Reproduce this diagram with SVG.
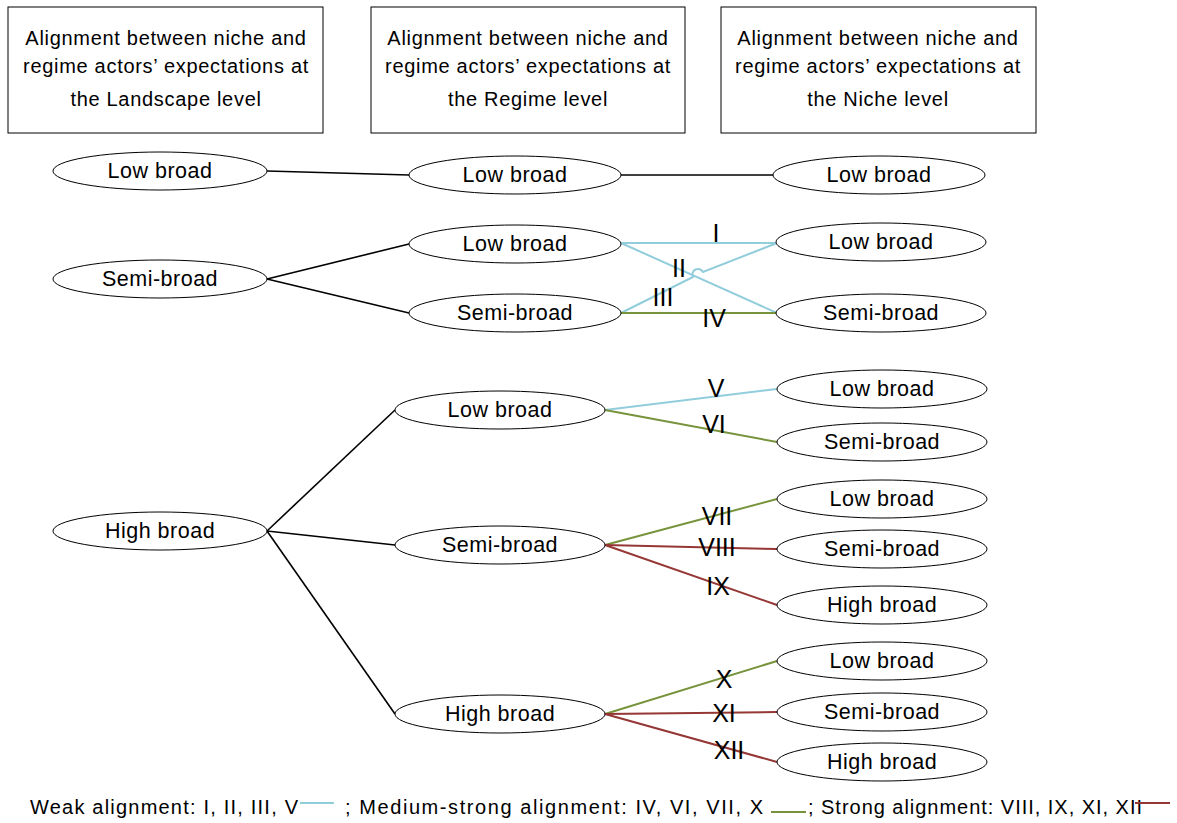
<svg xmlns="http://www.w3.org/2000/svg" width="1177" height="823" viewBox="0 0 1177 823">
<style>
text{font-family:"Liberation Sans",Arial,sans-serif;fill:#000}
.hdr{font-size:20px;letter-spacing:0.7px;text-anchor:middle}
.nt{font-size:21.5px;letter-spacing:0.5px;text-anchor:middle;dominant-baseline:central}
.lb{font-size:25px;text-anchor:middle;dominant-baseline:central}
.lg{font-size:20px}
rect{fill:#fff;stroke:#000;stroke-width:1}
ellipse{fill:#fff;stroke:#000;stroke-width:1}
.k{stroke:#000;stroke-width:1.6;fill:none}
.b{stroke:#92CDDC;stroke-width:2;fill:none}
.g{stroke:#77933C;stroke-width:2;fill:none}
.r{stroke:#953735;stroke-width:2;fill:none}
</style>
<rect x="0" y="0" width="1177" height="823" style="stroke:none;fill:#fff"/>
<g id="header-landscape"><rect x="8" y="7" width="315" height="126"/><text class="hdr" x="166" y="45">Alignment between niche and</text><text class="hdr" x="166" y="73">regime actors’ expectations at</text><text class="hdr" x="166" y="106">the Landscape level</text></g>
<g id="header-regime"><rect x="371" y="7" width="314" height="126"/><text class="hdr" x="528" y="45">Alignment between niche and</text><text class="hdr" x="528" y="73">regime actors’ expectations at</text><text class="hdr" x="528" y="106">the Regime level</text></g>
<g id="header-niche"><rect x="721" y="7" width="315" height="126"/><text class="hdr" x="878" y="45">Alignment between niche and</text><text class="hdr" x="878" y="73">regime actors’ expectations at</text><text class="hdr" x="878" y="106">the Niche level</text></g>
<g id="connectors">
<path class="k" d="M267,171 L409,175"/>
<path class="k" d="M621,175 L773,175"/>
<path class="k" d="M267,279 L409,244"/>
<path class="k" d="M267,279 L409,313"/>
<path class="b" d="M621,243 L777,243"/>
<path class="b" d="M621,243 L777,313"/>
<path class="b" d="M621,313 L693,277 A5,5 0 0 1 703,272 L777,243"/>
<path class="g" d="M621,313 L777,313"/>
<path class="k" d="M267,531 L395,410"/>
<path class="k" d="M267,531 L395,545"/>
<path class="k" d="M267,531 L395,714"/>
<path class="b" d="M605,410 L777,389"/>
<path class="g" d="M605,410 L777,442"/>
<path class="g" d="M605,545 L777,499"/>
<path class="r" d="M605,545 L777,549"/>
<path class="r" d="M605,545 L777,605"/>
<path class="g" d="M605,714 L777,661"/>
<path class="r" d="M605,714 L777,712"/>
<path class="r" d="M605,714 L777,762"/>
</g>
<g id="edge-labels">
<text class="lb" x="716" y="233">I</text>
<text class="lb" x="679" y="268">II</text>
<text class="lb" x="663" y="297">III</text>
<text class="lb" x="714" y="318">IV</text>
<text class="lb" x="716" y="388">V</text>
<text class="lb" x="714" y="424">VI</text>
<text class="lb" x="717" y="516">VII</text>
<text class="lb" x="717" y="547">VIII</text>
<text class="lb" x="718" y="586">IX</text>
<text class="lb" x="724" y="679">X</text>
<text class="lb" x="724" y="713">XI</text>
<text class="lb" x="729" y="750">XII</text>
</g>
<g id="l1-low"><ellipse cx="160" cy="171" rx="107" ry="19"/><text class="nt" x="160" y="171">Low broad</text></g>
<g id="r1-low"><ellipse cx="515" cy="175" rx="106" ry="19"/><text class="nt" x="515" y="175">Low broad</text></g>
<g id="n1-low"><ellipse cx="879" cy="175" rx="106" ry="19"/><text class="nt" x="879" y="175">Low broad</text></g>
<g id="l2-semi"><ellipse cx="160" cy="279" rx="107" ry="19"/><text class="nt" x="160" y="279">Semi-broad</text></g>
<g id="r2-low"><ellipse cx="515" cy="244" rx="106" ry="19"/><text class="nt" x="515" y="244">Low broad</text></g>
<g id="r2-semi"><ellipse cx="515" cy="313" rx="106" ry="19"/><text class="nt" x="515" y="313">Semi-broad</text></g>
<g id="n2-low"><ellipse cx="881" cy="242" rx="105" ry="19"/><text class="nt" x="881" y="242">Low broad</text></g>
<g id="n2-semi"><ellipse cx="881" cy="313" rx="105" ry="19"/><text class="nt" x="881" y="313">Semi-broad</text></g>
<g id="l3-high"><ellipse cx="160" cy="531" rx="107" ry="19"/><text class="nt" x="160" y="531">High broad</text></g>
<g id="r3-low"><ellipse cx="500" cy="410" rx="105" ry="19"/><text class="nt" x="500" y="410">Low broad</text></g>
<g id="r3-semi"><ellipse cx="500" cy="545" rx="105" ry="19"/><text class="nt" x="500" y="545">Semi-broad</text></g>
<g id="r3-high"><ellipse cx="500" cy="714" rx="105" ry="19"/><text class="nt" x="500" y="714">High broad</text></g>
<g id="n3-low-a"><ellipse cx="882" cy="389" rx="105" ry="19"/><text class="nt" x="882" y="389">Low broad</text></g>
<g id="n3-semi-a"><ellipse cx="882" cy="442" rx="105" ry="19"/><text class="nt" x="882" y="442">Semi-broad</text></g>
<g id="n3-low-b"><ellipse cx="882" cy="499" rx="105" ry="19"/><text class="nt" x="882" y="499">Low broad</text></g>
<g id="n3-semi-b"><ellipse cx="882" cy="549" rx="105" ry="19"/><text class="nt" x="882" y="549">Semi-broad</text></g>
<g id="n3-high-b"><ellipse cx="882" cy="605" rx="105" ry="19"/><text class="nt" x="882" y="605">High broad</text></g>
<g id="n3-low-c"><ellipse cx="882" cy="661" rx="105" ry="19"/><text class="nt" x="882" y="661">Low broad</text></g>
<g id="n3-semi-c"><ellipse cx="882" cy="712" rx="105" ry="19"/><text class="nt" x="882" y="712">Semi-broad</text></g>
<g id="n3-high-c"><ellipse cx="882" cy="762" rx="105" ry="19"/><text class="nt" x="882" y="762">High broad</text></g>
<g id="legend">
<text class="lg" x="30" y="814" textLength="268" lengthAdjust="spacing">Weak alignment: I, II, III, V</text>
<path class="b" d="M300,803 L334,803"/>
<text class="lg" x="345" y="814" textLength="418" lengthAdjust="spacing">; Medium-strong alignment: IV, VI, VII, X</text>
<path class="g" d="M771,812 L806,812"/>
<text class="lg" x="808" y="814" textLength="334" lengthAdjust="spacing">; Strong alignment: VIII, IX, XI, XII</text>
<path class="r" d="M1135,803 L1170,803"/>
</g>
</svg>
